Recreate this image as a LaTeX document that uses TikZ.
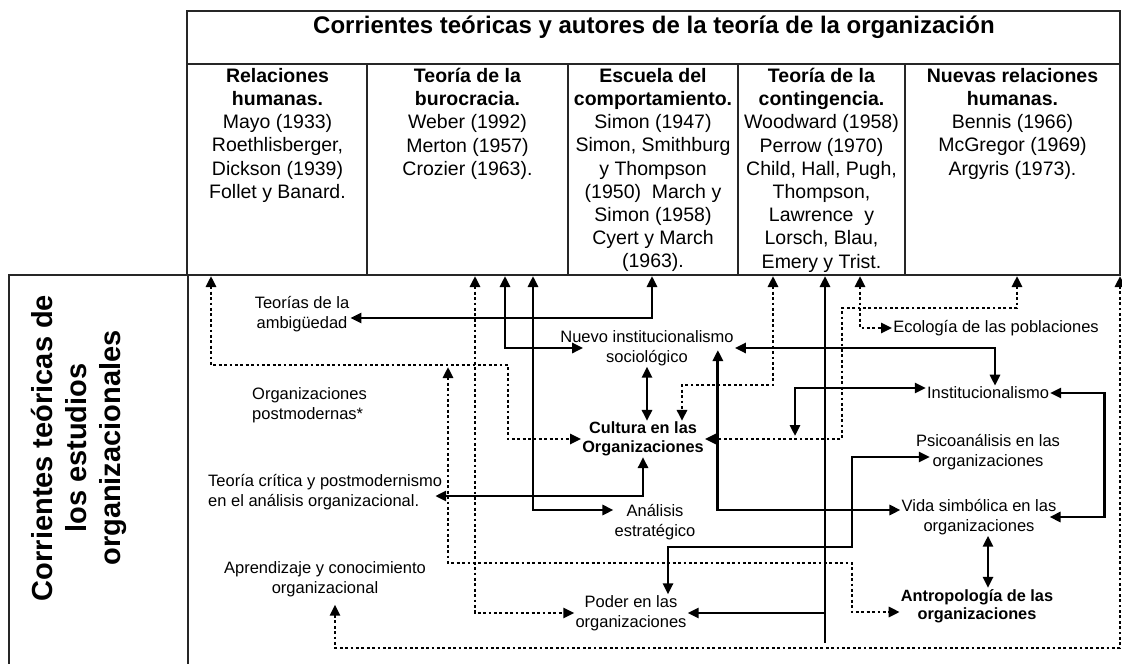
\documentclass[tikz,border=0pt]{standalone}
\usepackage{fontspec}
\setmainfont{Liberation Sans}
\usetikzlibrary{arrows.meta,calc}

\tikzset{
  >={Triangle[length=11pt,width=10pt]},
  grid/.style={line width=1.5pt,draw=black!85},
  link/.style={line width=2.8pt,<->},
  dotlink/.style={link,dash pattern=on 2.8pt off 2.6pt},
  theory/.style={font=\fontsize{16.5}{19.5}\selectfont,align=center,inner sep=1pt},
  theorybold/.style={theory,font=\fontsize{16.3}{18.5}\selectfont\bfseries},
  colhead/.style={font=\fontsize{19.5}{23.2}\selectfont,align=center,inner sep=0pt,anchor=north},
}

\begin{document}
\begin{tikzpicture}[x=1pt,y=-1pt]
	\useasboundingbox (0,0) rectangle (1122,664);

	% table frame
	\draw[grid] (187,11) rectangle (1120,275);
	\draw[grid] (187,64) -- (1120,64);
	\foreach \x in {367,568,738,905}
		\draw[grid] (\x,64) -- (\x,275);
	\draw[grid] (9,664) -- (9,275) -- (187,275);
	\draw[grid] (188,275) -- (188,664);

	\node[font=\fontsize{24}{28}\selectfont\bfseries] (title) at (654,27) {Corrientes teóricas y autores de la teoría de la organización};

	\begin{scope}[every node/.style={colhead}]
		\node (relhum) at (277.5,68) {\textbf{Relaciones}\\\textbf{humanas.}\\Mayo (1933)\\Roethlisberger,\\Dickson (1939)\\Follet y Banard.};
		\node (buro) at (467.5,68) {\textbf{Teoría de la}\\\textbf{burocracia.}\\Weber (1992)\\Merton (1957)\\Crozier (1963).};
		\node (compor) at (653,68) {\textbf{Escuela del}\\\textbf{comportamiento.}\\Simon (1947)\\Simon, Smithburg\\y Thompson\\(1950)\ \ March y\\Simon (1958)\\Cyert y March\\(1963).};
		\node (conting) at (821.5,68) {\textbf{Teoría de la}\\\textbf{contingencia.}\\Woodward (1958)\\Perrow (1970)\\Child, Hall, Pugh,\\Thompson,\\Lawrence\ \ y\\Lorsch, Blau,\\Emery y Trist.};
		\node (nuevrel) at (1012.5,68) {\textbf{Nuevas relaciones}\\\textbf{humanas.}\\Bennis (1966)\\McGregor (1969)\\Argyris (1973).};
	\end{scope}

	\node[rotate=90,align=center,font=\fontsize{29}{34}\selectfont\bfseries] (side) at (79,448) {Corrientes teóricas de\\los estudios\\organizacionales};

	% currents of organizational studies
	\begin{scope}[every node/.style={theory}]
		\node (ambig) at (302,314) {Teorías de la\\ambigüedad};
		\node[align=left,anchor=west] (posmo) at (251,405) {Organizaciones\\postmodernas*};
		\node[align=left,anchor=west] (critica) at (207,492) {Teoría crítica y postmodernismo\\en el análisis organizacional.};
		\node (aprend) at (325,579) {Aprendizaje y conocimiento\\organizacional};
		\node (nuevo) at (647,348) {Nuevo institucionalismo\\sociológico};
		\node[theorybold] (cultura) at (643,439) {Cultura en las\\Organizaciones};
		\node (analisis) at (655,522) {Análisis\\estratégico};
		\node (poder) at (631,613) {Poder en las\\organizaciones};
		\node (ecolo) at (996,328) {Ecología de las poblaciones};
		\node (instit) at (988,393) {Institucionalismo};
		\node (psico) at (988,452) {Psicoanálisis en las\\organizaciones};
		\node (vida) at (979,517) {Vida simbólica en las\\organizaciones};
		\node[theorybold] (antro) at (977,606) {Antropología de las\\organizaciones};
	\end{scope}

	\coordinate (tA) at (211,276);
	\coordinate (tC) at (475,276);
	\coordinate (tD) at (505,276);
	\coordinate (tE) at (533,276);
	\coordinate (tF) at (652,276);
	\coordinate (tG) at (773,276);
	\coordinate (tH) at (825,276);
	\coordinate (tI) at (860,276);
	\coordinate (tJ) at (1017,276);
	\coordinate (tK) at (1120,276);

	\coordinate (hbot) at (825,643);
	\coordinate (hbr) at (825,613);
	\coordinate (c14) at (795,436);
	\coordinate (pturn) at (852,547);
	\coordinate (dcorner) at (508,365);
	\coordinate (dsplit) at (448,367);
	\coordinate (dlow) at (852,563);
	\coordinate (dmid) at (682,385);
	\coordinate (dright) at (842,308);
	\coordinate (dbottom) at (1120,648);

	% solid links
	\draw[link] (tD) |- ([xshift=24pt]nuevo.west);
	\draw[link] (tE) |- ([yshift=12pt]analisis.west);
	\draw[link] (tF) |- ([yshift=-4pt]ambig.east);
	\draw[link] ([xshift=-8pt,yshift=-4pt]critica.east) -| (cultura.south);
	\draw[link] (nuevo.south) -- (nuevo.south |- cultura.north);
	\draw[link,<-] (tH) -- (hbot);
	\draw[link,->] (hbr) -- (poder.east);
	\draw[link] (nuevo.east) -| ([xshift=7pt]instit.north);
	\draw[link] ([yshift=5pt]instit.west) -| (c14);
	\draw[link] (instit.east) -- ++(54,0) |- ([xshift=-8pt]vida.east);
	\draw[link] ([xshift=37pt]poder.north) |- (pturn) |- ([xshift=15pt,yshift=-5pt]psico.west);
	\draw[link] ([xshift=-17pt,yshift=-2pt]nuevo.east) |- ([yshift=7pt]vida.west);
	\draw[link] ([xshift=9pt]vida.south) -- ([xshift=9pt]vida.south |- antro.north);

	% dotted links
	\draw[dotlink] (tA) |- (dcorner) |- (cultura.west);
	\draw[dotlink] (dsplit) |- (dlow) |- ([yshift=-6pt]antro.west);
	\draw[dotlink] (tC) |- (poder.west);
	\draw[dotlink] (tG) |- (dmid) -- (dmid |- cultura.north);
	\draw[dotlink] (tI) |- (ecolo.west);
	\draw[dotlink] (tJ) |- (dright) |- (cultura.east);
	\draw[dotlink] ([xshift=10pt,yshift=-7pt]aprend.south) |- (dbottom) -- (tK);
\end{tikzpicture}
\end{document}
